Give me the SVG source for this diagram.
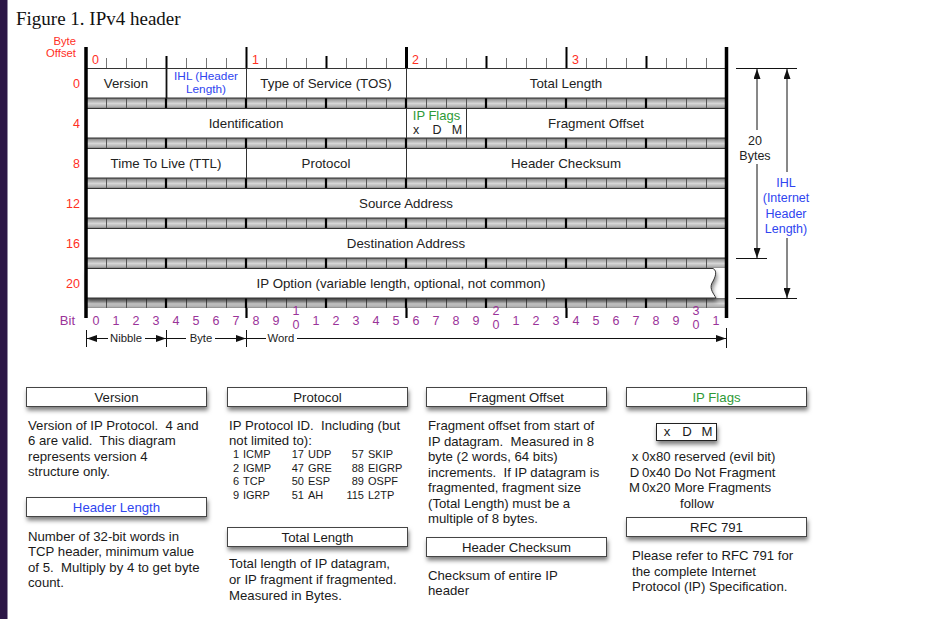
<svg xmlns="http://www.w3.org/2000/svg" width="929" height="619" viewBox="0 0 929 619">
<defs>
<style>
text{font-family:"Liberation Sans",Arial,Helvetica,sans-serif;}
.fig{font-family:"Liberation Serif","Times New Roman",serif;font-size:19px;fill:#111}
.row{font-size:13.3px;fill:#222;text-anchor:middle}
.body{font-size:13.2px;fill:#1a1a1a}
.ttl{font-size:13.2px;fill:#1a1a1a;text-anchor:middle}
.tab{font-size:11px;fill:#1a1a1a}
.end{text-anchor:end}
.mid{text-anchor:middle}
.red{fill:#ff2f1f;font-size:12.5px}
.blue{fill:#2f45f0}
.green{fill:#2e9a36}
.pur{fill:#9a3399;font-size:12.5px;text-anchor:middle}
.sm{font-size:11.3px;fill:#222}
.box{fill:#fff;stroke:#333;stroke-width:1}
.tbox{fill:#fff;stroke:#444;stroke-width:1;filter:url(#sh)}
.div{stroke:#333;stroke-width:1}
.ln{stroke:#111;stroke-width:1;fill:none}
</style>
<linearGradient id="bg" x1="0" y1="0" x2="0" y2="1">
<stop offset="0" stop-color="#666"/>
<stop offset="0.2" stop-color="#a2a2a2"/>
<stop offset="0.55" stop-color="#d6d6d6"/>
<stop offset="0.85" stop-color="#b2b2b2"/>
<stop offset="1" stop-color="#8a8a8a"/>
</linearGradient>
<pattern id="cells" patternUnits="userSpaceOnUse" x="86" y="0" width="20" height="10">
<rect width="20" height="10" fill="url(#bg)"/>
<rect x="0" y="0" width="1" height="10" fill="#555"/>
</pattern>
<g id="band">
<rect x="86" y="0" width="640" height="10" fill="url(#cells)"/>
<path d="M166,0v10M246,0v10M326,0v10M406,0v10M486,0v10M566,0v10M646,0v10" stroke="#000" stroke-width="2.2"/>
</g>
<filter id="sh" x="-10%" y="-40%" width="125%" height="220%">
<feDropShadow dx="1" dy="3.5" stdDeviation="2.2" flood-color="#000" flood-opacity="0.5"/>
</filter>
<marker id="ah" viewBox="0 0 10 7" refX="10" refY="3.5" markerWidth="10" markerHeight="7" markerUnits="userSpaceOnUse" orient="auto-start-reverse">
<path d="M0,0L10,3.5L0,7z" fill="#111"/>
</marker>
</defs>

<rect width="929" height="619" fill="#fff"/>
<rect x="0" y="0" width="7.5" height="619" fill="#2b1646"/>
<text class="fig" x="16" y="25">Figure 1. IPv4 header</text>

<g id="ruler-top">
<text class="red end" x="76" y="45" style="font-size:11.3px">Byte</text>
<text class="red end" x="76" y="57" style="font-size:11.3px">Offset</text>
<path d="M106.5,58v10M126.5,58v10M146.5,58v10M186.5,58v10M206.5,58v10M226.5,58v10M266.5,58v10M286.5,58v10M306.5,58v10M346.5,58v10M366.5,58v10M386.5,58v10M426.5,58v10M446.5,58v10M466.5,58v10M506.5,58v10M526.5,58v10M546.5,58v10M586.5,58v10M606.5,58v10M626.5,58v10M666.5,58v10M686.5,58v10M706.5,58v10" stroke="#777" stroke-width="1"/>
<path d="M166.5,56v12M326.5,56v12M486.5,56v12M646.5,56v12" stroke="#000" stroke-width="2"/>
<path d="M246.5,47v21M566.5,47v21" stroke="#000" stroke-width="2"/>
<path d="M406.5,47v21" stroke="#000" stroke-width="3"/>
<text class="red" x="92" y="64">0</text>
<text class="red" x="252" y="64">1</text>
<text class="red" x="412" y="64">2</text>
<text class="red" x="572" y="64">3</text>
<text class="red end" x="80" y="88">0</text>
<text class="red end" x="80" y="128">4</text>
<text class="red end" x="80" y="168">8</text>
<text class="red end" x="80" y="208">12</text>
<text class="red end" x="80" y="248">16</text>
<text class="red end" x="80" y="288">20</text>
</g>

<g id="bands">
<use href="#band" y="98"/>
<use href="#band" y="138"/>
<use href="#band" y="178"/>
<use href="#band" y="218"/>
<use href="#band" y="258"/>
<use href="#band" y="298"/>
</g>

<g id="row0">
<rect class="box" x="86.5" y="68.5" width="640" height="29.5"/>
<path d="M166.5,68.5v29.5" stroke="#111" stroke-width="1.8"/>
<path class="div" d="M246.5,68.5v29.5M406.5,68.5v29.5"/>
<text class="row" x="126" y="88">Version</text>
<text class="row blue" x="206" y="80" style="font-size:11.8px">IHL (Header</text>
<text class="row blue" x="206" y="93" style="font-size:11.8px">Length)</text>
<text class="row" x="326" y="88">Type of Service (TOS)</text>
<text class="row" x="566" y="88">Total Length</text>
</g>

<g id="row1">
<rect class="box" x="86.5" y="108.5" width="640" height="29.5"/>
<path class="div" d="M406.5,108.5v29.5M466.5,108.5v29.5"/>
<text class="row" x="246" y="128">Identification</text>
<text class="row green" x="436.5" y="120" style="font-size:13px">IP Flags</text>
<text class="row" x="416" y="134" style="font-size:12.5px">x</text>
<text class="row" x="437" y="134" style="font-size:12.5px">D</text>
<text class="row" x="457" y="134" style="font-size:12.5px">M</text>
<text class="row" x="596" y="128">Fragment Offset</text>
</g>

<g id="row2">
<rect class="box" x="86.5" y="148.5" width="640" height="29.5"/>
<path class="div" d="M246.5,148.5v29.5M406.5,148.5v29.5"/>
<text class="row" x="166" y="168">Time To Live (TTL)</text>
<text class="row" x="326" y="168">Protocol</text>
<text class="row" x="566" y="168">Header Checksum</text>
</g>

<g id="row3">
<rect class="box" x="86.5" y="188.5" width="640" height="29.5"/>
<text class="row" x="406" y="208">Source Address</text>
</g>

<g id="row4">
<rect class="box" x="86.5" y="228.5" width="640" height="29.5"/>
<text class="row" x="406" y="248">Destination Address</text>
</g>

<g id="row5">
<path d="M86.5,268.5H713C718,271 715,278 712,283C709,289 714,294 716,298H86.5Z" fill="#fff" stroke="#333" stroke-width="1" filter="url(#sh)"/>
<text class="row" x="401" y="288">IP Option (variable length, optional, not common)</text>
</g>

<g id="frame">
<path d="M86,47V318M726.5,47V318" stroke="#000" stroke-width="3.5"/>
<path d="M246.5,308v10M406.5,308v10M566.5,308v10" stroke="#000" stroke-width="2.2"/>
</g>

<g id="ruler-bottom">
<text x="75" y="325" class="pur" style="text-anchor:end;font-size:13px">Bit</text>
<text class="pur" x="96" y="325">0</text>
<text class="pur" x="116" y="325">1</text>
<text class="pur" x="136" y="325">2</text>
<text class="pur" x="156" y="325">3</text>
<text class="pur" x="176" y="325">4</text>
<text class="pur" x="196" y="325">5</text>
<text class="pur" x="216" y="325">6</text>
<text class="pur" x="236" y="325">7</text>
<text class="pur" x="256" y="325">8</text>
<text class="pur" x="276" y="325">9</text>
<text class="pur" x="296" y="315">1</text>
<text class="pur" x="296" y="329">0</text>
<text class="pur" x="316" y="325">1</text>
<text class="pur" x="336" y="325">2</text>
<text class="pur" x="356" y="325">3</text>
<text class="pur" x="376" y="325">4</text>
<text class="pur" x="396" y="325">5</text>
<text class="pur" x="416" y="325">6</text>
<text class="pur" x="436" y="325">7</text>
<text class="pur" x="456" y="325">8</text>
<text class="pur" x="476" y="325">9</text>
<text class="pur" x="496" y="315">2</text>
<text class="pur" x="496" y="329">0</text>
<text class="pur" x="516" y="325">1</text>
<text class="pur" x="536" y="325">2</text>
<text class="pur" x="556" y="325">3</text>
<text class="pur" x="576" y="325">4</text>
<text class="pur" x="596" y="325">5</text>
<text class="pur" x="616" y="325">6</text>
<text class="pur" x="636" y="325">7</text>
<text class="pur" x="656" y="325">8</text>
<text class="pur" x="676" y="325">9</text>
<text class="pur" x="696" y="315">3</text>
<text class="pur" x="696" y="329">0</text>
<text class="pur" x="716" y="325">1</text>
<text class="sm mid" x="126" y="342">Nibble</text>
<text class="sm mid" x="201" y="342">Byte</text>
<text class="sm mid" x="281" y="342">Word</text>
<text class="mid" x="755" y="145" style="font-size:12.5px;fill:#222">20</text>
<text class="mid" x="755" y="160" style="font-size:12.5px;fill:#222">Bytes</text>
<text class="mid blue" x="786" y="187" style="font-size:12.5px">IHL</text>
<text class="mid blue" x="786" y="202" style="font-size:12.5px">(Internet</text>
<text class="mid blue" x="786" y="218" style="font-size:12.5px">Header</text>
<text class="mid blue" x="786" y="233" style="font-size:12.5px">Length)</text>
</g>

<g id="connectors">
<path class="ln" d="M86.5,330v17M166.5,330v17M246.5,330v17M726.5,328v20"/>
<line class="ln" x1="108" y1="338.5" x2="87" y2="338.5" marker-end="url(#ah)"/>
<line class="ln" x1="145" y1="338.5" x2="166" y2="338.5" marker-end="url(#ah)"/>
<line class="ln" x1="167" y1="338.5" x2="186" y2="338.5"/>
<line class="ln" x1="215" y1="338.5" x2="246" y2="338.5" marker-end="url(#ah)"/>
<line class="ln" x1="247" y1="338.5" x2="266" y2="338.5"/>
<line class="ln" x1="297" y1="338.5" x2="726" y2="338.5" marker-end="url(#ah)"/>
<path class="ln" d="M736,68.5H797M736,258.5H767M736,298.5H797"/>
<line class="ln" x1="757" y1="130" x2="757" y2="69" marker-end="url(#ah)"/>
<line class="ln" x1="757" y1="164" x2="757" y2="258" marker-end="url(#ah)"/>
<line class="ln" x1="787" y1="172" x2="787" y2="69" marker-end="url(#ah)"/>
<line class="ln" x1="787" y1="238" x2="787" y2="298" marker-end="url(#ah)"/>
</g>

<g id="desc-version">
<rect class="tbox" x="26.5" y="387.5" width="180" height="19"/>
<text class="ttl" x="116.5" y="402">Version</text>
<text class="body" xml:space="preserve" x="28" y="429.5">Version of IP Protocol.  4 and</text>
<text class="body" xml:space="preserve" x="28" y="445">6 are valid.  This diagram</text>
<text class="body" x="28" y="460.5">represents version 4</text>
<text class="body" x="28" y="476">structure only.</text>
</g>

<g id="desc-header-length">
<rect class="tbox" x="26.5" y="497.5" width="180" height="19"/>
<text class="ttl blue" x="116.5" y="512">Header Length</text>
<text class="body" x="28" y="540.5">Number of 32-bit words in</text>
<text class="body" x="28" y="556">TCP header, minimum value</text>
<text class="body" xml:space="preserve" x="28" y="571.5">of 5.  Multiply by 4 to get byte</text>
<text class="body" x="28" y="587">count.</text>
</g>

<g id="desc-protocol">
<rect class="tbox" x="227.5" y="387.5" width="180" height="19"/>
<text class="ttl" x="317.5" y="402">Protocol</text>
<text class="body" xml:space="preserve" x="229" y="429.5">IP Protocol ID.  Including (but</text>
<text class="body" x="229" y="445">not limited to):</text>
<text class="tab end" x="239" y="458">1</text><text class="tab" x="243" y="458">ICMP</text>
<text class="tab end" x="304" y="458">17</text><text class="tab" x="308" y="458">UDP</text>
<text class="tab end" x="364" y="458">57</text><text class="tab" x="368" y="458">SKIP</text>
<text class="tab end" x="239" y="471.5">2</text><text class="tab" x="243" y="471.5">IGMP</text>
<text class="tab end" x="304" y="471.5">47</text><text class="tab" x="308" y="471.5">GRE</text>
<text class="tab end" x="364" y="471.5">88</text><text class="tab" x="368" y="471.5">EIGRP</text>
<text class="tab end" x="239" y="485">6</text><text class="tab" x="243" y="485">TCP</text>
<text class="tab end" x="304" y="485">50</text><text class="tab" x="308" y="485">ESP</text>
<text class="tab end" x="364" y="485">89</text><text class="tab" x="368" y="485">OSPF</text>
<text class="tab end" x="239" y="498.5">9</text><text class="tab" x="243" y="498.5">IGRP</text>
<text class="tab end" x="304" y="498.5">51</text><text class="tab" x="308" y="498.5">AH</text>
<text class="tab end" x="364" y="498.5">115</text><text class="tab" x="368" y="498.5">L2TP</text>
</g>

<g id="desc-total-length">
<rect class="tbox" x="227.5" y="527.5" width="180" height="19"/>
<text class="ttl" x="317.5" y="542">Total Length</text>
<text class="body" x="229" y="567.5">Total length of IP datagram,</text>
<text class="body" x="229" y="584">or IP fragment if fragmented.</text>
<text class="body" x="229" y="600">Measured in Bytes.</text>
</g>

<g id="desc-fragment-offset">
<rect class="tbox" x="426.5" y="387.5" width="180" height="19"/>
<text class="ttl" x="516.5" y="402">Fragment Offset</text>
<text class="body" x="428" y="429.5">Fragment offset from start of</text>
<text class="body" xml:space="preserve" x="428" y="445.5">IP datagram.  Measured in 8</text>
<text class="body" x="428" y="460.5">byte (2 words, 64 bits)</text>
<text class="body" xml:space="preserve" x="428" y="476.5">increments.  If IP datagram is</text>
<text class="body" x="428" y="491.5">fragmented, fragment size</text>
<text class="body" x="428" y="507.5">(Total Length) must be a</text>
<text class="body" x="428" y="522.5">multiple of 8 bytes.</text>
</g>

<g id="desc-header-checksum">
<rect class="tbox" x="426.5" y="537.5" width="180" height="19"/>
<text class="ttl" x="516.5" y="552">Header Checksum</text>
<text class="body" x="428" y="579.5">Checksum of entire IP</text>
<text class="body" x="428" y="594.5">header</text>
</g>

<g id="desc-ip-flags">
<rect class="tbox" x="626.5" y="387.5" width="180" height="19"/>
<text class="ttl green" x="716.5" y="402">IP Flags</text>
<rect x="656.5" y="423.5" width="60" height="17" fill="#fff" stroke="#222" stroke-width="1" filter="url(#sh)"/>
<text class="body mid" x="667" y="436">x</text>
<text class="body mid" x="687" y="436">D</text>
<text class="body mid" x="707" y="436">M</text>
<text class="body mid" x="635" y="461">x</text>
<text class="body" x="642" y="461">0x80 reserved (evil bit)</text>
<text class="body mid" x="634.5" y="476.5">D</text>
<text class="body" x="642" y="476.5">0x40 Do Not Fragment</text>
<text class="body mid" x="634.5" y="492">M</text>
<text class="body" x="642" y="492">0x20 More Fragments</text>
<text class="body" x="680" y="507.5">follow</text>
</g>

<g id="desc-rfc">
<rect class="tbox" x="626.5" y="517.5" width="180" height="19"/>
<text class="ttl" x="716.5" y="532">RFC 791</text>
<text class="body" x="632" y="559.5">Please refer to RFC 791 for</text>
<text class="body" x="632" y="575.5">the complete Internet</text>
<text class="body" x="632" y="591">Protocol (IP) Specification.</text>
</g>
</svg>
